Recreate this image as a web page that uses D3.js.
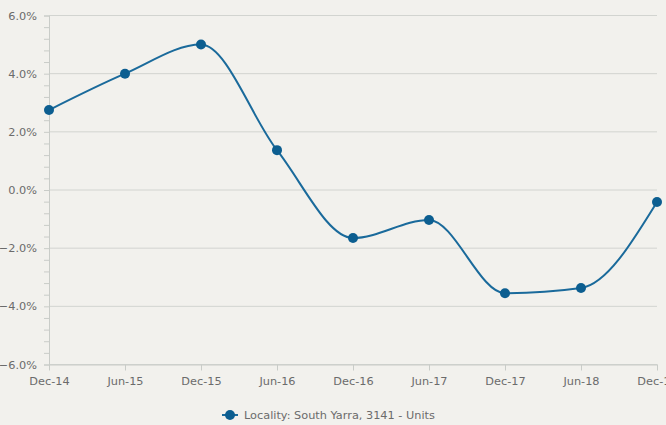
<!DOCTYPE html>
<html><head><meta charset="utf-8">
<script src="https://cdn.jsdelivr.net/npm/d3@7"></script>
<style>
html,body{margin:0;padding:0;background:#f2f1ed;overflow:hidden;}
svg{display:block;font-family:"DejaVu Sans",sans-serif;}
</style></head><body>
<svg id="c" width="666" height="425"></svg>
<script>
const categories = ["Dec-14","Jun-15","Dec-15","Jun-16","Dec-16","Jun-17","Dec-17","Jun-18","Dec-18"];
const values = [2.75, 4.0, 5.0, 1.37, -1.65, -1.03, -3.55, -3.37, -0.41];
const yTicks = [-6, -4, -2, 0, 2, 4, 6];
const seriesName = "Locality: South Yarra, 3141 - Units";

const svg = d3.select("#c");
const W = 666, H = 425;
const m = {left: 49, right: 9, top: 15.5, bottom: 60.5};
const x = d3.scalePoint().domain(categories).range([m.left, W - m.right]);
const y = d3.scaleLinear().domain([-6, 6]).range([H - m.bottom, m.top]);

const grid = "#d2d4d0", axisCol = "#c9ccc8", textCol = "#6b6b6b", lineCol = "#1a6a9b", dotCol = "#0c5e90";
const fs = 11.3;

// gridlines
svg.append("g").selectAll("line").data(yTicks).join("line")
  .attr("x1", m.left).attr("x2", W - m.right)
  .attr("y1", d => y(d)).attr("y2", d => y(d))
  .attr("stroke", grid).attr("stroke-width", 1);

// y axis
const minor = d3.range(-6, 6.001, 0.4);
const yAxis = svg.append("g").attr("transform", `translate(${m.left},0)`)
  .call(d3.axisLeft(y).tickValues(minor).tickSize(5).tickFormat(""));
yAxis.select(".domain").attr("stroke", axisCol);
yAxis.selectAll(".tick line").attr("stroke", axisCol);
svg.append("g").selectAll("text").data(yTicks).join("text")
  .attr("x", 37).attr("y", d => y(d) + 4)
  .attr("text-anchor", "end").attr("font-size", fs).attr("fill", textCol)
  .text(d => d3.format(".1f")(d) + "%");

// x axis
const xAxis = svg.append("g").attr("transform", `translate(0,${y(-6)})`)
  .call(d3.axisBottom(x).tickSize(6).tickPadding(6).tickSizeOuter(0));
xAxis.select(".domain").attr("stroke", axisCol);
xAxis.selectAll(".tick line").attr("stroke", axisCol);
xAxis.selectAll(".tick text").attr("font-size", fs).attr("fill", textCol)
  .attr("font-family", "DejaVu Sans, sans-serif");

// line
const data = categories.map((c, i) => ({c, v: values[i]}));
const line = d3.line().x(d => x(d.c)).y(d => y(d.v)).curve(d3.curveMonotoneX);
svg.append("path").datum(data).attr("d", line)
  .attr("fill", "none").attr("stroke", lineCol).attr("stroke-width", 2);
svg.append("g").selectAll("circle").data(data).join("circle")
  .attr("cx", d => x(d.c)).attr("cy", d => y(d.v)).attr("r", 5)
  .attr("fill", dotCol);

// legend
const lg = svg.append("g").attr("transform", "translate(222,415)");
lg.append("line").attr("x1", 0).attr("x2", 16).attr("y1", 0).attr("y2", 0)
  .attr("stroke", lineCol).attr("stroke-width", 2);
lg.append("circle").attr("cx", 8).attr("cy", 0).attr("r", 5).attr("fill", dotCol);
lg.append("text").attr("x", 22).attr("y", 4).attr("font-size", fs).attr("fill", textCol)
  .text(seriesName);
</script>
</body></html>
